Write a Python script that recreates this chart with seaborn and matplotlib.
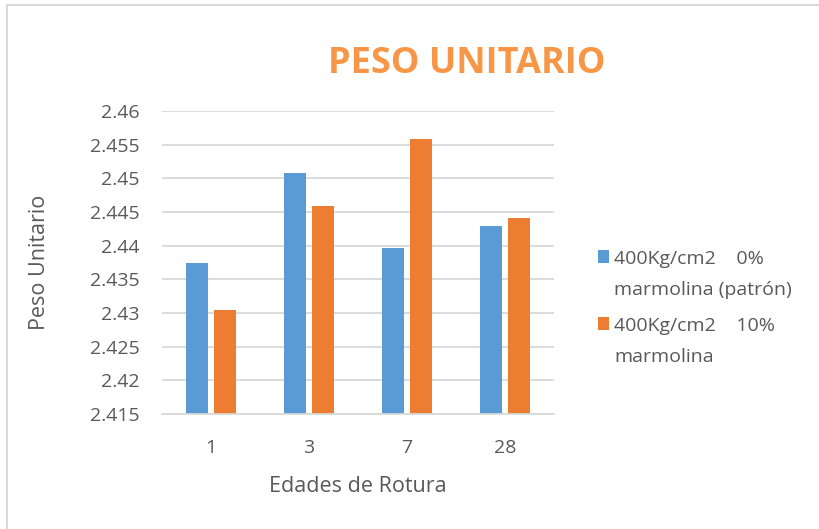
import matplotlib
matplotlib.use("Agg")
import matplotlib.pyplot as plt
import seaborn as sns
import pandas as pd
from matplotlib.patches import Rectangle, Patch

# Data
edades = ["1", "3", "7", "28"]
patron = [2.4375, 2.4508, 2.4397, 2.4430]
marmolina10 = [2.4305, 2.4459, 2.4559, 2.4441]
series = ["400Kg/cm2    0%\nmarmolina (patrón)", "400Kg/cm2    10%\nmarmolina"]
yticks = [2.415, 2.42, 2.425, 2.43, 2.435, 2.44, 2.445, 2.45, 2.455, 2.46]
ytick_labels = ["2.415", "2.42", "2.425", "2.43", "2.435", "2.44", "2.445", "2.45", "2.455", "2.46"]

df = pd.DataFrame({
    "Edad": edades * 2,
    "Peso": patron + marmolina10,
    "Serie": [series[0]] * 4 + [series[1]] * 4,
})

sns.set_theme(style="white")
plt.rcParams["font.family"] = ["Open Sans", "DejaVu Sans"]

TEXT = "#595959"
GRID = "#D9D9D9"
colors = ["#5B9BD5", "#ED7D31"]

fig = plt.figure(figsize=(8.19, 5.29), dpi=100)
ax = fig.add_axes([0.198, 0.2174, 0.478, 0.5726])

sns.barplot(data=df, x="Edad", y="Peso", hue="Serie", order=edades,
            hue_order=series, palette=colors, width=0.571, gap=0.214,
            linewidth=0, saturation=1, ax=ax, legend=False)

ax.set_ylim(2.415, 2.46)
ax.set_yticks(yticks)
ax.set_yticklabels(ytick_labels)
ax.set_xlim(-0.5, 3.5)
ax.yaxis.grid(True, color=GRID, linewidth=1.3)
ax.set_axisbelow(True)
for s in ["top", "right", "left"]:
    ax.spines[s].set_visible(False)
ax.spines["bottom"].set_color(GRID)
ax.spines["bottom"].set_linewidth(1.3)
ax.tick_params(axis="both", length=0, labelsize=14, colors=TEXT)
ax.tick_params(axis="y", pad=16)
ax.tick_params(axis="x", pad=18)

ax.set_xlabel("Edades de Rotura", fontsize=15.5, color=TEXT, labelpad=14)
ax.set_ylabel("Peso Unitario", fontsize=15.5, color=TEXT, labelpad=29)

fig.text(0.570, 0.879, "PESO UNITARIO", ha="center", va="center",
         fontsize=26, fontweight="bold", color="#F79646")

handles = [Patch(facecolor=c, edgecolor="none") for c in colors]
leg = fig.legend(handles, series, loc="upper left",
                 bbox_to_anchor=(0.718, 0.545), frameon=False,
                 fontsize=14, labelcolor=TEXT, handlelength=0.6,
                 handleheight=0.6, handletextpad=0.25, labelspacing=0.95,
                 borderpad=0)
for t in leg.get_texts():
    t.set_linespacing(1.9)
# keep each colour square level with the first line of its label
for h in leg.legend_handles:
    h.set_y(h.get_y() + 1.48 * h.get_height())

# chart frame
fig.patches.append(Rectangle((7 / 819, -0.01), 1.0, 1 - 5 / 529 + 0.01,
                             transform=fig.transFigure, fill=False,
                             edgecolor=GRID, linewidth=1.5))

fig.savefig("out.png", dpi=100)
